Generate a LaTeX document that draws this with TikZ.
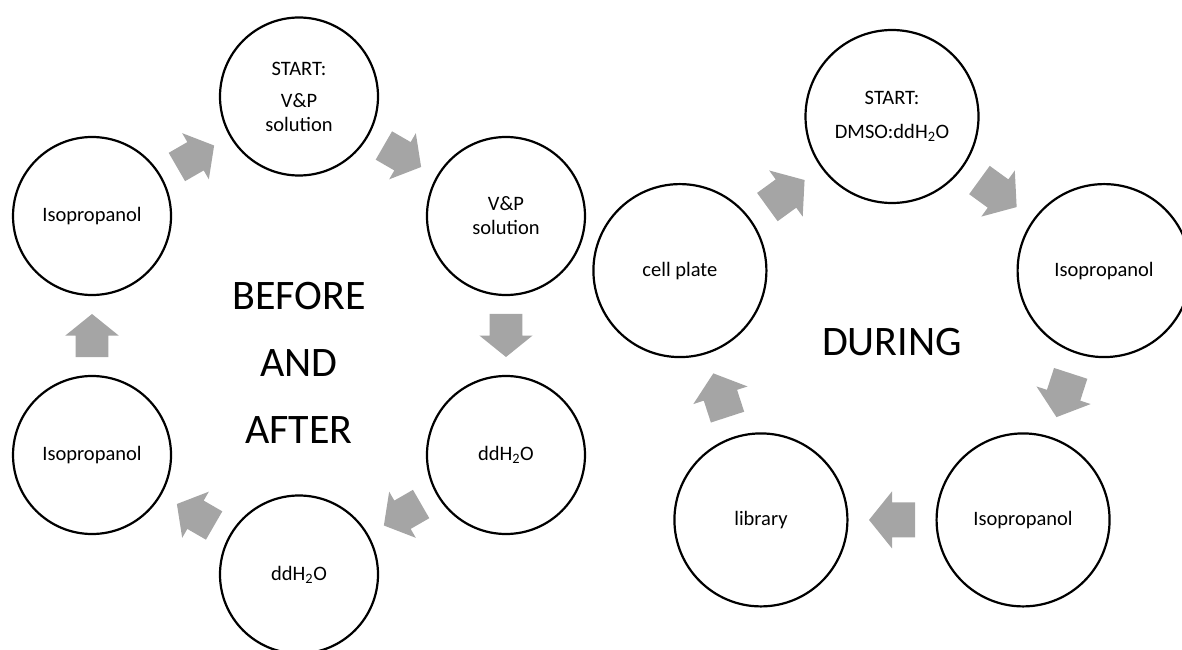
\documentclass[tikz,border=0pt]{standalone}
\usepackage{fontspec}
\setmainfont{Carlito}
\usetikzlibrary{calc}
\definecolor{arrowgray}{HTML}{A5A5A5}
\newcommand{\cyclearrow}[3]{%
  \path let \p1=($(#2)-(#1)$) in \pgfextra{\pgfmathsetmacro{\arrang}{atan2(\y1,\x1)}\global\let\arrangG\arrang};
  \begin{scope}[shift={($(#1)!0.5!(#2)$)}, rotate=\arrangG, scale=#3]
    \fill[arrowgray] (-23,-17.5) -- (0,-17.5) -- (0,-28.5) -- (23,0) -- (0,28.5) -- (0,17.5) -- (-23,17.5) -- cycle;
  \end{scope}}
\tikzset{
  stepcirc/.style={circle, draw=black, line width=2.2pt, fill=white, inner sep=0pt, align=center, font=\fontsize{20.5}{24}\selectfont},
  smallcirc/.style={stepcirc, minimum size=158pt},
  bigcirc/.style={stepcirc, minimum size=173pt},
  bigtitle/.style={align=center, inner sep=0pt, font=\fontsize{42}{67}\selectfont}
}
\begin{document}
\begin{tikzpicture}[x=1pt, y=1pt]
\useasboundingbox (0,0) rectangle (1182,649);
% left cycle
\begin{scope}[shift={(299,313.5)}]
  \node[smallcirc] (A) at (90:239) {START:\\[8pt]V\&P\\solution};
  \node[smallcirc] (B) at (30:239) {V\&P\\solution};
  \node[smallcirc] (C) at (-30:239) {ddH\textsubscript{2}O};
  \node[smallcirc] (D) at (-90:239) {ddH\textsubscript{2}O};
  \node[smallcirc] (E) at (210:239) {Isopropanol};
  \node[smallcirc] (F) at (150:239) {Isopropanol};
\end{scope}
\node[bigtitle] (before) at (299,286) {BEFORE\\AND\\AFTER};
\cyclearrow{A}{B}{0.935}
\cyclearrow{B}{C}{0.935}
\cyclearrow{C}{D}{0.935}
\cyclearrow{D}{E}{0.935}
\cyclearrow{E}{F}{0.935}
\cyclearrow{F}{A}{0.935}
% right cycle
\begin{scope}[shift={(892,309.5)}]
  \node[bigcirc] (P) at (90:223) {START:\\[10pt]DMSO:ddH\textsubscript{2}O};
  \node[bigcirc] (Q) at (18:223) {Isopropanol};
  \node[bigcirc] (R) at (-54:223) {Isopropanol};
  \node[bigcirc] (S) at (-126:223) {library};
  \node[bigcirc] (T) at (162:223) {cell plate};
\end{scope}
\node[bigtitle] (during) at (892,307) {DURING};
\cyclearrow{P}{Q}{1}
\cyclearrow{Q}{R}{1}
\cyclearrow{R}{S}{1}
\cyclearrow{S}{T}{1}
\cyclearrow{T}{P}{1}
\end{tikzpicture}
\end{document}
